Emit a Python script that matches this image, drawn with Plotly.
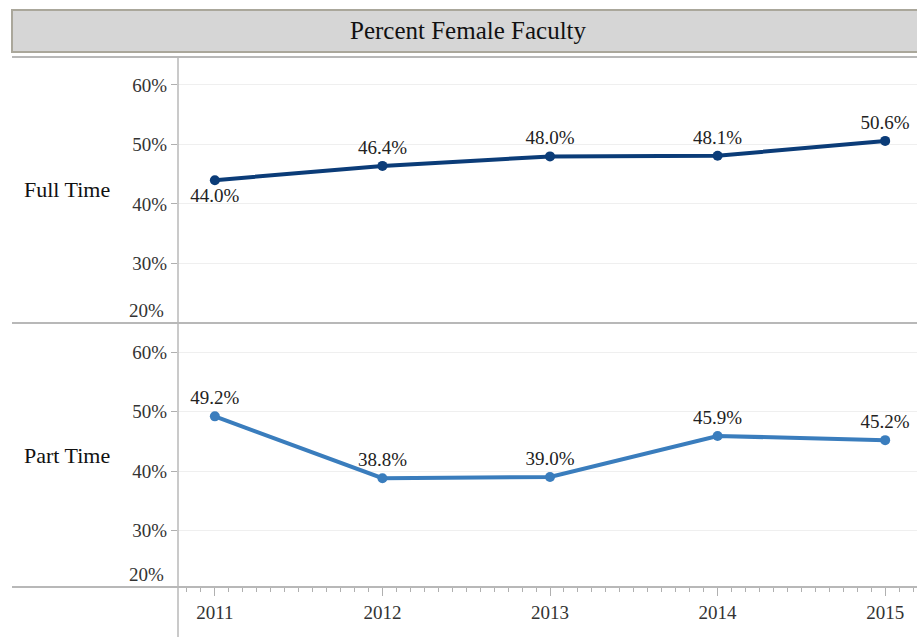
import plotly.graph_objects as go

years = [2011, 2012, 2013, 2014, 2015]
full_time = [44.0, 46.4, 48.0, 48.1, 50.6]
part_time = [49.2, 38.8, 39.0, 45.9, 45.2]
full_pos = ["bottom center", "top center", "top center", "top center", "top center"]
part_pos = ["top center", "top center", "top center", "top center", "top center"]
y_ticks = [30, 40, 50, 60]
y_tick_text = ["30%", "40%", "50%", "60%"]
title = "Percent Female Faculty"
rows = ["Full Time", "Part Time"]

W, H = 917, 637
FONT = "Liberation Serif"
def px(x): return x / W
def py(y): return 1 - y / H

fig = go.Figure()
fig.add_trace(go.Scatter(
    x=years, y=full_time, mode="lines+markers+text",
    text=[f"{v:.1f}%" for v in full_time], textposition=full_pos,
    textfont=dict(family=FONT, size=19, color="#222"),
    line=dict(color="#0b3c78", width=4), marker=dict(size=10, color="#0b3c78"),
    xaxis="x", yaxis="y", cliponaxis=False, showlegend=False))
fig.add_trace(go.Scatter(
    x=years, y=part_time, mode="lines+markers+text",
    text=[f"{v:.1f}%" for v in part_time], textposition=part_pos,
    textfont=dict(family=FONT, size=19, color="#222"),
    line=dict(color="#3a7dbd", width=4), marker=dict(size=10, color="#3a7dbd"),
    xaxis="x2", yaxis="y2", cliponaxis=False, showlegend=False))

xr = [2010.78, 2015.19]
yax = dict(tickvals=y_ticks, ticktext=y_tick_text, showgrid=True, gridcolor="#efefef",
           gridwidth=1, zeroline=False, ticks="outside", ticklen=6, tickcolor="#b0b0b0",
           tickfont=dict(family=FONT, size=19, color="#333"), showline=False)

fig.update_layout(
    width=W, height=H, margin=dict(l=0, r=0, t=0, b=0),
    paper_bgcolor="white", plot_bgcolor="white",
    xaxis=dict(domain=[px(178), 1], range=xr, anchor="y", showticklabels=False,
               showgrid=False, zeroline=False, ticks=""),
    xaxis2=dict(domain=[px(178), 1], range=xr, anchor="y2", showgrid=False, zeroline=False,
                tickvals=years, ticktext=[str(y) for y in years],
                ticks="outside", ticklen=8, tickcolor="#b0b0b0",
                minor=dict(dtick=1/12, tick0=2011, ticks="outside", ticklen=4, tickcolor="#b0b0b0"),
                tickfont=dict(family=FONT, size=19, color="#333")),
    yaxis=dict(domain=[py(323), py(57)], range=[20, 64.7], anchor="x", **yax),
    yaxis2=dict(domain=[py(587), py(323)], range=[20.5, 64.9], anchor="x2", **yax),
)

shapes = []
shapes.append(dict(type="rect", xref="paper", yref="paper", x0=px(12), x1=1.01, y0=py(52), y1=py(10),
                   fillcolor="#d6d6d6", line=dict(color="#aaa79b", width=2), layer="below"))
for yy in (57, 323, 587):
    shapes.append(dict(type="line", xref="paper", yref="paper", x0=px(12), x1=1, y0=py(yy), y1=py(yy),
                       line=dict(color="#b8b8b8", width=2)))
shapes.append(dict(type="line", xref="paper", yref="paper", x0=px(178), x1=px(178), y0=0, y1=py(57),
                   line=dict(color="#b8b8b8", width=1.5)))
fig.update_layout(shapes=shapes)

def note(text, x, y, size):
    return dict(text=text, x=px(x), y=py(y), xref="paper", yref="paper", showarrow=False,
                xanchor="center", yanchor="middle", font=dict(family=FONT, size=size, color="#111"))

ann = [note(title, 468, 31, 25), note(rows[0], 67, 190, 22), note(rows[1], 67, 455, 22)]
ann.append(dict(text="20%", x=px(166), y=20, xref="paper", yref="y", xanchor="right", yanchor="bottom",
                showarrow=False, font=dict(family=FONT, size=19, color="#333")))
ann.append(dict(text="20%", x=px(166), y=20.5, xref="paper", yref="y2", xanchor="right", yanchor="bottom",
                showarrow=False, font=dict(family=FONT, size=19, color="#333")))
fig.update_layout(annotations=ann)

fig.write_html("out.html", config={"displayModeBar": False},
               post_script="document.body.style.margin='0';document.body.style.overflow='hidden';")
